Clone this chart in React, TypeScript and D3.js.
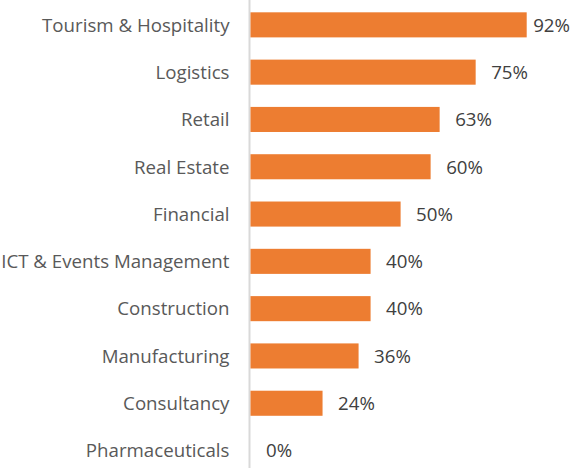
import React, { useEffect, useRef } from 'react';
import * as d3 from 'd3';

const categories = [
  'Tourism & Hospitality',
  'Logistics',
  'Retail',
  'Real Estate',
  'Financial',
  'ICT & Events Management',
  'Construction',
  'Manufacturing',
  'Consultancy',
  'Pharmaceuticals',
];
const values = [92, 75, 63, 60, 50, 40, 40, 36, 24, 0];

const width = 571;
const height = 468;

const App = () => {
  const ref = useRef<SVGSVGElement>(null);

  useEffect(() => {
    if (!ref.current) return;
    const svg = d3.select(ref.current);
    svg.selectAll('*').remove();

    const data = categories.map((c, i) => ({ name: c, value: values[i] }));

    const x = d3.scaleLinear().domain([0, 92]).range([250.5, 526.7]);
    const y = d3.scaleBand<string>()
      .domain(categories)
      .range([1.2, 474.2])
      .paddingInner(0.47)
      .paddingOuter(0.235);

    const font = '"Open Sans", sans-serif';

    // axis line
    svg.append('line')
      .attr('x1', 249.5).attr('x2', 249.5)
      .attr('y1', 0).attr('y2', height)
      .attr('stroke', '#d9d9d9')
      .attr('stroke-width', 2);

    svg.selectAll('rect.bar')
      .data(data)
      .enter()
      .append('rect')
      .attr('class', 'bar')
      .attr('x', x(0))
      .attr('y', d => y(d.name)!)
      .attr('width', d => x(d.value) - x(0))
      .attr('height', y.bandwidth())
      .attr('fill', '#ed7d31');

    svg.selectAll('text.cat')
      .data(data)
      .enter()
      .append('text')
      .attr('class', 'cat')
      .attr('x', 229.5)
      .attr('y', d => y(d.name)! + y.bandwidth() / 2 + 6.8)
      .attr('text-anchor', 'end')
      .attr('font-family', font)
      .attr('font-size', 18.7)
      .attr('fill', '#595959')
      .text(d => d.name);

    svg.selectAll('text.val')
      .data(data)
      .enter()
      .append('text')
      .attr('class', 'val')
      .attr('x', d => x(d.value) + 15.5)
      .attr('y', d => y(d.name)! + y.bandwidth() / 2 + 6.8)
      .attr('font-family', font)
      .attr('font-size', 18.7)
      .attr('fill', '#404040')
      .text(d => d.value + '%')
      .each(function () {
        const t = this as SVGTextElement;
        const w = t.getComputedTextLength();
        const x0 = +t.getAttribute('x')!;
        if (x0 + w > width - 1) t.setAttribute('x', String(width - 1 - w));
      });
  }, []);

  return (
    <svg
      ref={ref}
      width={width}
      height={height}
      style={{ position: 'absolute', left: 0, top: 0, background: '#fff' }}
    />
  );
};

export default App;
